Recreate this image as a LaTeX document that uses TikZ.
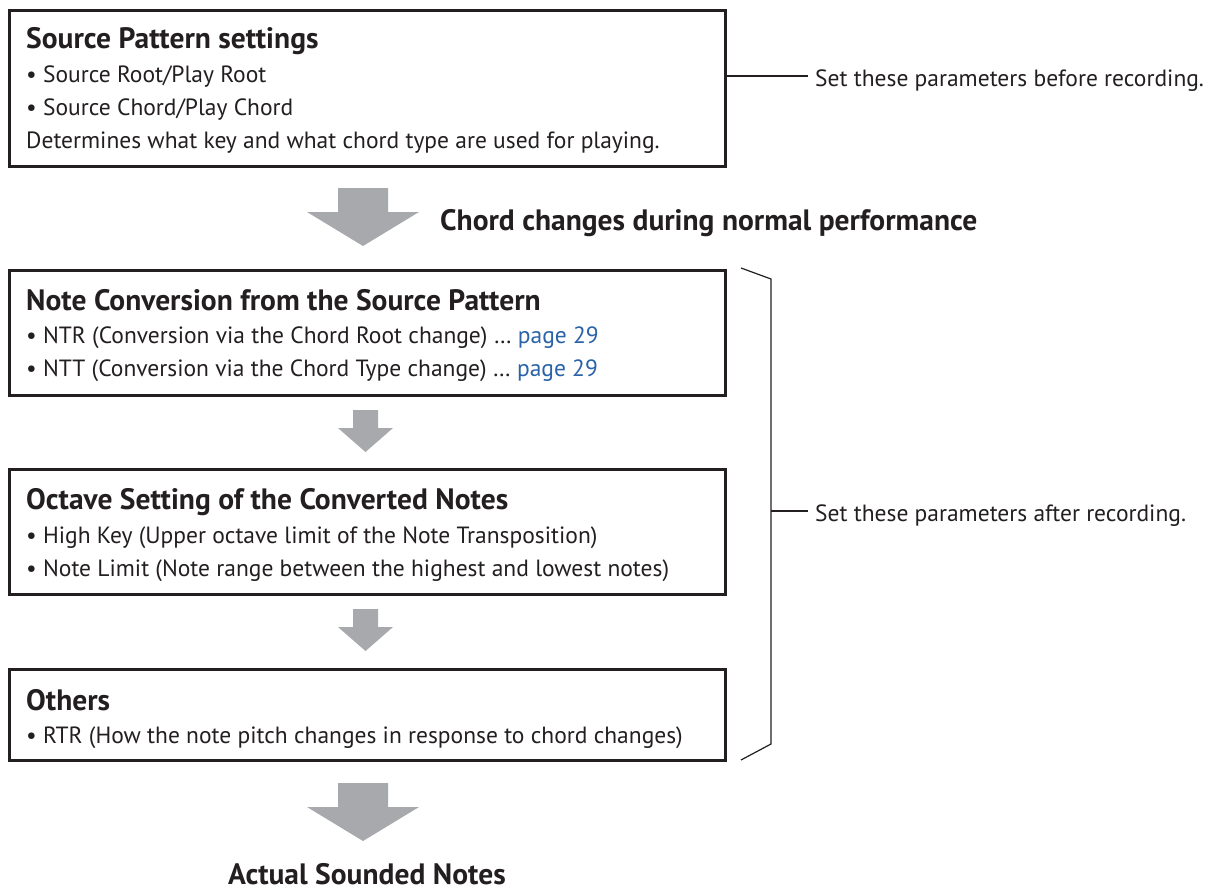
\documentclass[tikz,border=0pt]{standalone}
\usepackage{fontspec}
\setmainfont{PT Sans}
\definecolor{arrowgray}{HTML}{A7A9AC}
\definecolor{boxline}{HTML}{231F20}
\definecolor{linkblue}{HTML}{2A63A8}
\begin{document}
\begin{tikzpicture}[x=1pt,y=-1pt,
  box/.style={draw=boxline, line width=3pt, rectangle, inner sep=0pt, minimum width=716pt, anchor=north west},
  hd/.style={anchor=base west, inner sep=0pt, text=boxline, font=\fontsize{29.5}{33}\selectfont\bfseries},
  tx/.style={anchor=base west, inner sep=0pt, text=boxline, font=\fontsize{23.5}{27}\selectfont},
  thin/.style={draw=boxline, line width=1.2pt},
  bigarrow/.pic={\fill[arrowgray] (-25,0) -- (25,0) -- (25,24) -- (56,24) -- (0,58) -- (-56,24) -- (-25,24) -- cycle;},
  smallarrow/.pic={\fill[arrowgray] (-12.5,0) -- (12.5,0) -- (12.5,18) -- (27.5,18) -- (0,42) -- (-27.5,18) -- (-12.5,18) -- cycle;}
]
\useasboundingbox (0,0) rectangle (1216,891);
\fill[white] (0,0) rectangle (1216,891);

% boxes
\node[box, minimum height=156pt] (b1) at (8,9) {};
\node[box, minimum height=125pt] (b2) at (8,269) {};
\node[box, minimum height=125pt] (b3) at (8,468) {};
\node[box, minimum height=91pt] (b4) at (8,668) {};

% box 1 text
\node[hd] (h1) at (26,49) {Source Pattern settings};
\node[tx] (t11) at (26,83) {• Source Root/Play Root};
\node[tx] (t12) at (26,115) {• Source Chord/Play Chord};
\node[tx] (t13) at (26,148) {Determines what key and what chord type are used for playing.};

% box 2 text
\node[hd] (h2) at (26,310) {Note Conversion from the Source Pattern};
\node[tx] (t21) at (26,343) {• NTR (Conversion via the Chord Root change) … \textcolor{linkblue}{page 29}};
\node[tx] (t22) at (26,376) {• NTT (Conversion via the Chord Type change) … \textcolor{linkblue}{page 29}};

% box 3 text
\node[hd] (h3) at (26,509) {Octave Setting of the Converted Notes};
\node[tx] (t31) at (26,543) {• High Key (Upper octave limit of the Note Transposition)};
\node[tx] (t32) at (26,576) {• Note Limit (Note range between the highest and lowest notes)};

% box 4 text
\node[hd] (h4) at (26,710) {Others};
\node[tx] (t41) at (26,743) {• RTR (How the note pitch changes in response to chord changes)};

% arrows
\pic at (363,188) {bigarrow};
\pic at (365.5,410) {smallarrow};
\pic at (365.5,609) {smallarrow};
\pic at (363,783) {bigarrow};

\node[hd] (chg) at (440,230) {Chord changes during normal performance};
\node[hd] (act) at (228,884) {Actual Sounded Notes};

% before-recording connector
\coordinate (bend) at (808,76);
\draw[thin] (bend -| b1.east) -- (bend);
\node[tx] (before) at (815,86) {Set these parameters before recording.};

% bracket
\coordinate (k1) at (741,268);
\coordinate (k2) at (771,279);
\coordinate (k3) at (771,744);
\coordinate (k4) at (741,760);
\coordinate (km) at (771,511);
\coordinate (kt) at (808,511);
\draw[thin] (k1) -- (k2) -- (k3) -- (k4);
\draw[thin] (km) -- (kt);
\node[tx] (after) at (815,521) {Set these parameters after recording.};
\end{tikzpicture}
\end{document}
